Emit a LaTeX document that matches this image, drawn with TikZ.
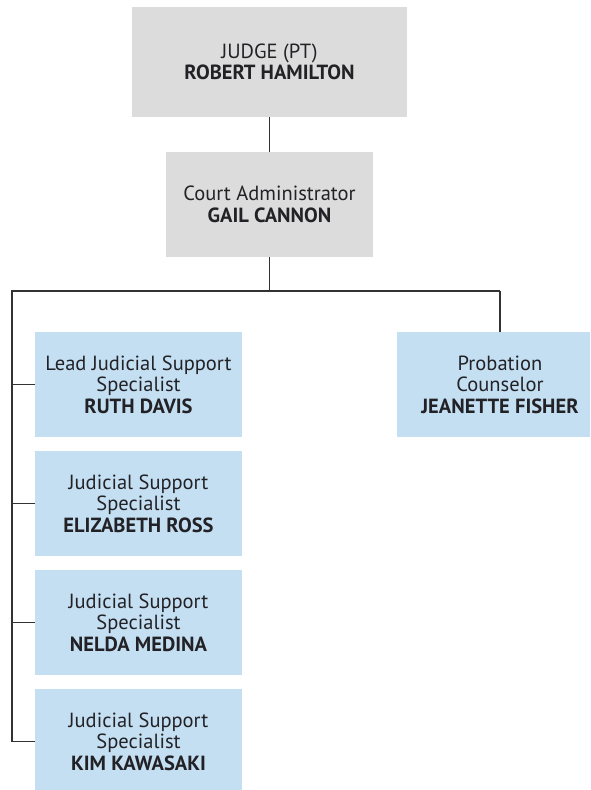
\documentclass[tikz,border=0pt]{standalone}
\usepackage{fontspec}
\setmainfont{PT Sans}
\definecolor{boxgray}{RGB}{220,220,220}
\definecolor{boxblue}{RGB}{196,222,242}
\definecolor{inkdark}{RGB}{34,34,38}
\definecolor{linedark}{RGB}{50,50,50}
\tikzset{
  orgbox/.style={inner sep=0pt, align=center, text=inkdark,
    font=\fontsize{20.5}{21.5}\selectfont},
  headbox/.style={orgbox, fill=boxgray},
  staffbox/.style={orgbox, fill=boxblue, minimum width=207pt, minimum height=105pt},
  link/.style={draw=linedark, line width=1.2pt}
}
\begin{document}
\begin{tikzpicture}[x=1pt,y=-1pt]
\useasboundingbox (0,0) rectangle (590,790);
\clip (0,0) rectangle (590,790);
% management boxes
\node[headbox, minimum width=275pt, minimum height=110pt] (judge) at (269.5,62)
  {JUDGE (PT)\\\textbf{ROBERT HAMILTON}};
\node[headbox, minimum width=207pt, minimum height=105pt] (admin) at (269.5,204.5)
  {Court Administrator\\\textbf{GAIL CANNON}};
% staff boxes
\node[staffbox] (ruth) at (138.5,384.5)
  {Lead Judicial Support\\Specialist\\\textbf{RUTH DAVIS}};
\node[staffbox] (eliz) at (138.5,503.5)
  {Judicial Support\\Specialist\\\textbf{ELIZABETH ROSS}};
\node[staffbox] (nelda) at (138.5,622.5)
  {Judicial Support\\Specialist\\\textbf{NELDA MEDINA}};
\node[staffbox] (kim) at (138.5,741.5)
  {Judicial Support\\Specialist\\\textbf{KIM KAWASAKI}};
\node[staffbox] (prob) at (500,384.5)
  {Probation\\Counselor\\\textbf{JEANETTE FISHER}};
% bus coordinates
\coordinate (busmid) at (269.5,291);
\coordinate (busleft) at (12,291);
\coordinate (busright) at (500,291);
\coordinate (railend) at (12,741.5);
% connectors
\draw[link] (judge.south) -- (admin.north);
\draw[link] (admin.south) -- (busmid);
\draw[link] (busright) -- (busleft) -- (railend) -- (kim.west);
\draw[link] (busright) -- (prob.north);
\draw[link] (ruth.west) -| (busleft);
\draw[link] (eliz.west) -| (busleft);
\draw[link] (nelda.west) -| (busleft);
\end{tikzpicture}
\end{document}
